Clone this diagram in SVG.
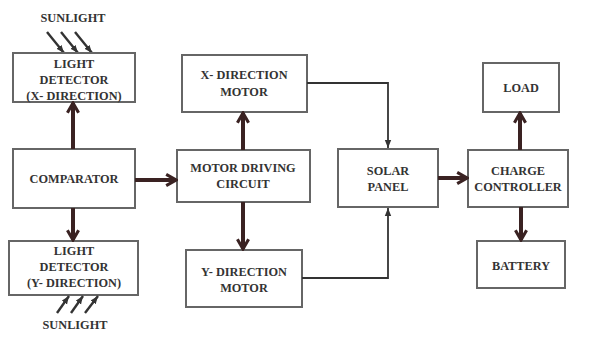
<svg xmlns="http://www.w3.org/2000/svg" width="593" height="349" viewBox="0 0 593 349">
<defs>
<marker id="thick" viewBox="0 0 10 10" refX="8.5" refY="5" markerWidth="14" markerHeight="14" markerUnits="userSpaceOnUse" orient="auto">
<path d="M1.5,1 L8.5,5 L1.5,9" fill="none" stroke="#3a2222" stroke-width="2.2"/>
</marker>
<marker id="thin" viewBox="0 0 10 10" refX="10" refY="5" markerWidth="8" markerHeight="8" markerUnits="userSpaceOnUse" orient="auto">
<path d="M0,1 L10,5 L0,9 Z" fill="#333"/>
</marker>
</defs>
<style>
.box{fill:#fff;stroke:#666;stroke-width:2}
.t{font-family:"Liberation Serif","Times New Roman",serif;font-weight:bold;font-size:12.3px;fill:#333;text-anchor:middle}
.ta{stroke:#3a2222;stroke-width:4;fill:none;marker-end:url(#thick)}
.tn{stroke:#333;stroke-width:1.8;fill:none;marker-end:url(#thin)}
.sun{stroke:#333;stroke-width:2.4;fill:none;marker-end:url(#thin)}
</style>
<rect width="593" height="349" fill="#fff"/>

<g id="sunlight-x">
<text class="t" x="73" y="22">SUNLIGHT</text>
<line class="sun" x1="47" y1="32" x2="64" y2="53"/>
<line class="sun" x1="61" y1="32" x2="78" y2="53"/>
<line class="sun" x1="75" y1="32" x2="92" y2="53"/>
</g>
<g id="light-detector-x">
<rect class="box" x="13" y="53" width="122" height="49"/>
<text class="t" x="74" y="68">LIGHT</text>
<text class="t" x="74" y="84">DETECTOR</text>
<text class="t" x="74" y="100">(X- DIRECTION)</text>
</g>
<g id="comparator">
<rect class="box" x="13" y="149" width="122" height="59"/>
<text class="t" x="74" y="183">COMPARATOR</text>
</g>
<g id="light-detector-y">
<rect class="box" x="9" y="241" width="129" height="54"/>
<text class="t" x="74" y="255">LIGHT</text>
<text class="t" x="74" y="271">DETECTOR</text>
<text class="t" x="74" y="287">(Y- DIRECTION)</text>
</g>
<g id="sunlight-y">
<line class="sun" x1="57" y1="313" x2="69" y2="296"/>
<line class="sun" x1="71" y1="313" x2="83" y2="296"/>
<line class="sun" x1="85" y1="313" x2="98" y2="296"/>
<text class="t" x="75" y="329">SUNLIGHT</text>
</g>
<g id="x-motor">
<rect class="box" x="182" y="55" width="125" height="57"/>
<text class="t" x="244" y="79">X- DIRECTION</text>
<text class="t" x="244" y="96">MOTOR</text>
</g>
<g id="motor-driving">
<rect class="box" x="177" y="150" width="133" height="52"/>
<text class="t" x="243" y="172">MOTOR DRIVING</text>
<text class="t" x="243" y="188">CIRCUIT</text>
</g>
<g id="y-motor">
<rect class="box" x="186" y="250" width="116" height="57"/>
<text class="t" x="244" y="276">Y- DIRECTION</text>
<text class="t" x="244" y="292">MOTOR</text>
</g>
<g id="solar-panel">
<rect class="box" x="338" y="149" width="100" height="58"/>
<text class="t" x="388" y="175">SOLAR</text>
<text class="t" x="388" y="191">PANEL</text>
</g>
<g id="charge-controller">
<rect class="box" x="468" y="150" width="100" height="57"/>
<text class="t" x="518" y="175">CHARGE</text>
<text class="t" x="518" y="191">CONTROLLER</text>
</g>
<g id="load">
<rect class="box" x="483" y="63" width="76" height="49"/>
<text class="t" x="521" y="92">LOAD</text>
</g>
<g id="battery">
<rect class="box" x="477" y="241" width="88" height="47"/>
<text class="t" x="521" y="270">BATTERY</text>
</g>

<g id="connectors">
<line class="ta" x1="73" y1="149" x2="73" y2="103"/>
<line class="ta" x1="73" y1="208" x2="73" y2="240"/>
<line class="ta" x1="135" y1="180" x2="176" y2="180"/>
<line class="ta" x1="243" y1="150" x2="243" y2="113"/>
<line class="ta" x1="243" y1="202" x2="243" y2="249"/>
<polyline class="tn" points="307,83 388,83 388,148"/>
<polyline class="tn" points="302,278 388,278 388,208"/>
<line class="ta" x1="438" y1="178" x2="467" y2="178"/>
<line class="ta" x1="520" y1="150" x2="520" y2="113"/>
<line class="ta" x1="521" y1="207" x2="521" y2="240"/>
</g>
</svg>
